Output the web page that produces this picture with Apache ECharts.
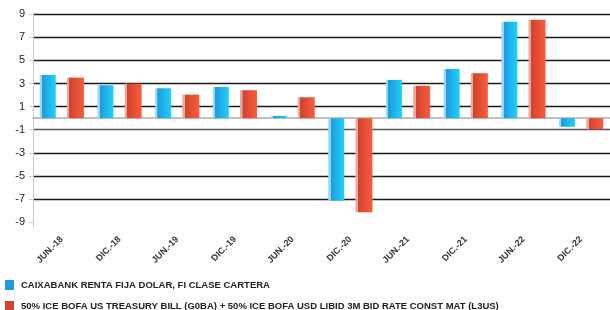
<!DOCTYPE html>
<html>
<head>
<meta charset="utf-8">
<script src="https://cdn.jsdelivr.net/npm/echarts@6/dist/echarts.min.js"></script>
<style>
  html, body { margin: 0; padding: 0; background: #fff; }
  #chart { width: 610px; height: 310px; }
</style>
</head>
<body>
<div id="chart"></div>
<script>
// periodos (semestrales)
const periods = ['JUN.-18', 'DIC.-18', 'JUN.-19', 'DIC.-19', 'JUN.-20', 'DIC.-20', 'JUN.-21', 'DIC.-21', 'JUN.-22', 'DIC.-22']

// rentabilidades
const fundValues = [3.74, 2.85, 2.59, 2.70, 0.20, -7.15, 3.31, 4.26, 8.34, -0.74]
const benchValues = [3.51, 2.99, 2.04, 2.42, 1.81, -8.13, 2.80, 3.89, 8.51, -0.96]

const yTicks = [-9, -7, -5, -3, -1, 1, 3, 5, 7, 9]

const fundName = 'CAIXABANK RENTA FIJA DOLAR, FI CLASE CARTERA'
const benchName = '50% ICE BOFA US TREASURY BILL (G0BA) + 50% ICE BOFA USD LIBID 3M BID RATE CONST MAT (L3US)'

const chart = echarts.init(document.getElementById('chart'))

const blueGrad = new echarts.graphic.LinearGradient(0, 0, 1, 0, [
  { offset: 0, color: '#9ad8f4' },
  { offset: 0.14, color: '#9ad8f4' },
  { offset: 0.15, color: '#1b9be0' },
  { offset: 1, color: '#22d0f8' },
])
const redGrad = new echarts.graphic.LinearGradient(0, 0, 1, 0, [
  { offset: 0, color: '#eba99b' },
  { offset: 0.14, color: '#eba99b' },
  { offset: 0.15, color: '#d1432d' },
  { offset: 1, color: '#f85d3d' },
])

// la primera linea (-9) no se dibuja
const gridColors = ['rgba(0,0,0,0)', '#1a1a1a', '#1a1a1a', '#1a1a1a', '#555', '#1a1a1a', '#1a1a1a', '#1a1a1a', '#1a1a1a', '#1a1a1a']

const option = {
  animation: false,
  backgroundColor: '#fff',
  textStyle: { fontFamily: 'Liberation Sans, Arial, sans-serif' },
  grid: {
    left: 33,
    right: -3,
    top: 13,
    bottom: 82,
  },
  legend: {
    orient: 'vertical',
    left: 5,
    top: 280,
    height: 40,
    padding: 0,
    itemWidth: 9,
    itemHeight: 10,
    itemGap: 11,
    icon: 'rect',
    textStyle: { fontSize: 9.5, fontWeight: 'bold', color: '#222', padding: [0, 0, 0, 2] },
    data: [
      { name: fundName, itemStyle: { color: '#1b9be0' } },
      { name: benchName, itemStyle: { color: '#d1432d' } },
    ],
  },
  xAxis: {
    type: 'category',
    data: periods,
    axisLine: { lineStyle: { color: '#aaa', width: 1.5 } },
    axisTick: { alignWithLabel: true, length: 4, lineStyle: { color: '#aaa' } },
    axisLabel: {
      rotate: 45,
      fontSize: 9,
      fontWeight: 'bold',
      color: '#333',
      margin: 10,
      interval: 0,
    },
    splitLine: { show: false },
  },
  yAxis: {
    type: 'value',
    min: -9.5,
    max: 9.1,
    axisLine: { show: true, lineStyle: { color: '#ccc', width: 1 } },
    axisTick: { show: true, length: 4, customValues: yTicks, lineStyle: { color: '#ccc' } },
    axisLabel: {
      customValues: yTicks,
      fontSize: 11,
      color: '#222',
      margin: 8,
    },
    splitLine: { show: true, lineStyle: { color: gridColors, width: 1.3 } },
  },
  series: [
    {
      name: fundName,
      type: 'bar',
      data: fundValues,
      barWidth: 16,
      barGap: '70%',
      itemStyle: { color: blueGrad },
    },
    {
      name: benchName,
      type: 'bar',
      data: benchValues,
      barWidth: 17,
      itemStyle: { color: redGrad },
    },
  ],
}

chart.setOption(option)
</script>
</body>
</html>
